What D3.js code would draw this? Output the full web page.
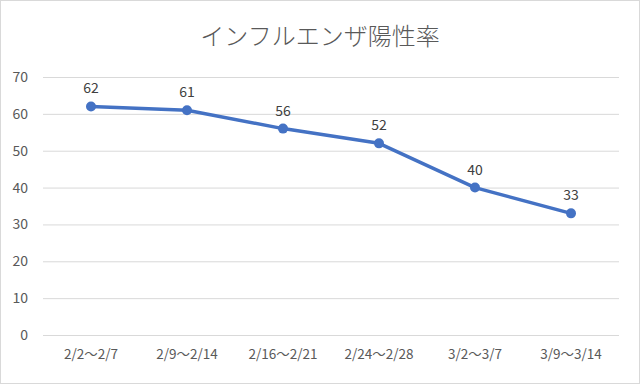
<!DOCTYPE html>
<meta charset="utf-8">
<style>
    body { margin: 0; background: #fff; }
    svg { display: block; font-family: "Noto Sans CJK JP", "Noto Sans", sans-serif; }
</style>
<svg width="640" height="384"></svg>
<script src="https://d3js.org/d3.v7.min.js"></script>
<script>
    var categories = ["2/2～2/7", "2/9～2/14", "2/16～2/21", "2/24～2/28", "3/2～3/7", "3/9～3/14"];
    var values = [62, 61, 56, 52, 40, 33];
    var yTicks = [0, 10, 20, 30, 40, 50, 60, 70];
    var title = "インフルエンザ陽性率";

    var svg = d3.select("svg"),
        W = +svg.attr("width"),
        H = +svg.attr("height"),
        plotL = 43, plotR = 619, plotT = 77, plotB = 335,
        LINE = "#4472C4";

    svg.append("rect")
        .attr("x", 0.5).attr("y", 0.5)
        .attr("width", W - 1).attr("height", H - 1)
        .attr("fill", "#fff").attr("stroke", "#d9d9d9");

    var x = d3.scaleBand().domain(categories).range([plotL, plotR]),
        y = d3.scaleLinear().domain([0, 70]).range([plotB, plotT]);

    svg.append("text")
        .attr("x", W / 2).attr("y", 45)
        .attr("text-anchor", "middle")
        .attr("font-size", 24)
        .attr("font-weight", 300)
        .attr("fill", "#595959")
        .text(title);

    // grid + y labels
    var yAxis = svg.append("g")
        .attr("transform", "translate(" + plotL + ",0)")
        .call(d3.axisLeft(y).tickValues(yTicks).tickSize(-(plotR - plotL)).tickPadding(15));
    yAxis.attr("font-family", null).attr("font-size", 14);
    yAxis.select(".domain").remove();
    yAxis.selectAll("line").attr("stroke", "#d9d9d9");
    yAxis.selectAll("text").attr("fill", "#595959");

    var xAxis = svg.append("g")
        .attr("transform", "translate(0," + plotB + ")")
        .call(d3.axisBottom(x).tickSize(0).tickPadding(14));
    xAxis.attr("font-family", null).attr("font-size", 13.5);
    xAxis.select(".domain").remove();
    xAxis.selectAll("text").attr("fill", "#595959");

    var cx = function (d, i) { return x(categories[i]) + x.bandwidth() / 2; };

    svg.append("path")
        .datum(values)
        .attr("fill", "none")
        .attr("stroke", LINE)
        .attr("stroke-width", 3.5)
        .attr("stroke-linejoin", "round")
        .attr("d", d3.line().x(cx).y(function (d) { return y(d); }));

    svg.selectAll("circle.pt")
        .data(values)
        .enter()
        .append("circle")
        .attr("cx", cx)
        .attr("cy", function (d) { return y(d); })
        .attr("r", 5)
        .attr("fill", LINE);

    svg.selectAll("text.lbl")
        .data(values)
        .enter()
        .append("text")
        .attr("x", cx)
        .attr("y", function (d) { return y(d) - 13; })
        .attr("text-anchor", "middle")
        .attr("font-size", 14)
        .attr("fill", "#404040")
        .text(function (d) { return d; });
</script>
